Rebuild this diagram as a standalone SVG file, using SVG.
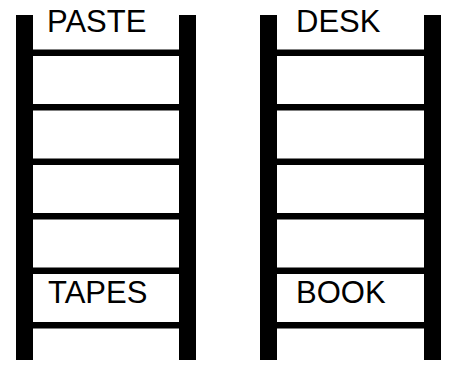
<svg xmlns="http://www.w3.org/2000/svg" width="449" height="365" viewBox="0 0 449 365">
<style>
.rail{fill:#000}
.rung{fill:#000}
.lbl{font-family:"Liberation Sans",Arial,sans-serif;font-size:31px;fill:#000}
</style>
<rect width="449" height="365" fill="#fff"/>
<g id="connectors"></g>
<g id="ladder-left">
<rect class="rail" x="16" y="15" width="17" height="345"/>
<rect class="rail" x="179" y="15" width="17" height="345"/>
<rect class="rung" x="33" y="49.5" width="146" height="6.5"/>
<rect class="rung" x="33" y="104" width="146" height="6.5"/>
<rect class="rung" x="33" y="158.5" width="146" height="6.5"/>
<rect class="rung" x="33" y="213" width="146" height="6.5"/>
<rect class="rung" x="33" y="267.5" width="146" height="6.5"/>
<rect class="rung" x="33" y="322" width="146" height="6.5"/>
<text class="lbl" x="47" y="31.5">PASTE</text>
<text class="lbl" x="48" y="303">TAPES</text>
</g>
<g id="ladder-right">
<rect class="rail" x="260" y="15" width="17" height="345"/>
<rect class="rail" x="424" y="15" width="17" height="345"/>
<rect class="rung" x="277" y="49.5" width="147" height="6.5"/>
<rect class="rung" x="277" y="104" width="147" height="6.5"/>
<rect class="rung" x="277" y="158.5" width="147" height="6.5"/>
<rect class="rung" x="277" y="213" width="147" height="6.5"/>
<rect class="rung" x="277" y="267.5" width="147" height="6.5"/>
<rect class="rung" x="277" y="322" width="147" height="6.5"/>
<text class="lbl" x="296" y="31.5">DESK</text>
<text class="lbl" x="296" y="303">BOOK</text>
</g>
</svg>
